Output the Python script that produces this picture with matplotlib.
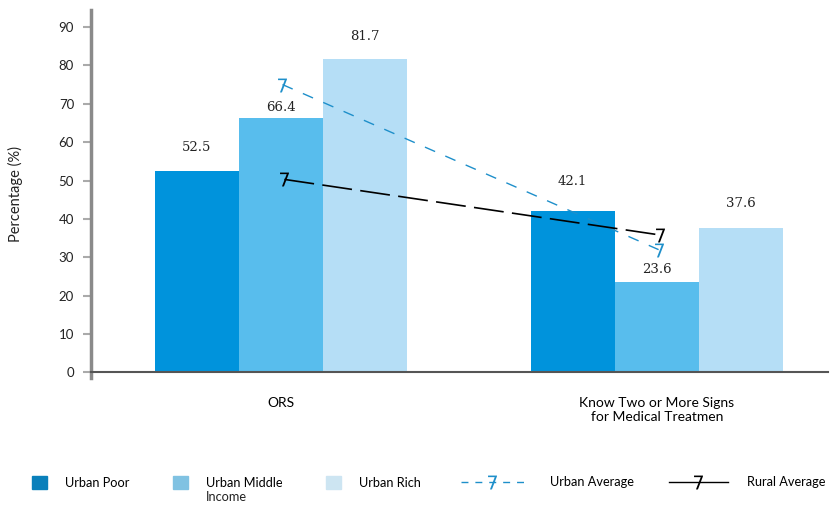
import matplotlib
matplotlib.use('Agg')
import matplotlib.pyplot as plt
from matplotlib.patches import Patch
from matplotlib.lines import Line2D
import numpy as np

categories = ['ORS', 'Know Two or More Signs\nfor Medical Treatmen']
urban_poor = [52.5, 42.1]
urban_middle = [66.4, 23.6]
urban_rich = [81.7, 37.6]
urban_average = [75.0, 32.0]
rural_average = [50.3, 35.8]

# label offset above bar top, in points (the source placed them unevenly)
label_offsets = [[17, 7, 16], [21, 9, 18]]

plt.rcParams['font.family'] = ['Lato', 'DejaVu Sans']

fig = plt.figure(figsize=(8.32, 5.05), dpi=100)
ax = fig.add_axes([0.109, 0.251, 0.886, 0.729])

x = np.arange(len(categories))
w = 0.2234
series = [
    (urban_poor, 'Urban Poor', '#0093dc', '#0a80bb'),
    (urban_middle, 'Urban Middle', '#58bded', '#80c2e2'),
    (urban_rich, 'Urban Rich', '#b5def6', '#cde5f2'),
]
for i, (vals, name, col, _) in enumerate(series):
    pos = x + (i - 1) * w
    ax.bar(pos, vals, width=w, color=col, label=name, zorder=2)
    for j, v in enumerate(vals):
        ax.annotate(f'{v:.1f}', (pos[j], v), xytext=(0, label_offsets[j][i]),
                    textcoords='offset points', ha='center', va='center',
                    fontsize=9.5, color='#222222', family='DejaVu Serif')

mk = dict(marker='$7$', markersize=10, markeredgewidth=0, zorder=3)
ax.plot(x + 0.005, urban_average, color='#1e8fca', lw=1.0, dashes=(8, 8), **mk)
ax.plot(x + 0.01, rural_average, color='black', lw=1.2, dashes=(18, 5), **mk)

ax.set_xlim(-0.505, 1.455)
ax.set_ylim(-1.5, 94.4)
ax.set_yticks(range(0, 91, 10))
ax.set_xticks(x)
ax.set_xticklabels(categories, fontsize=9, color='#222222')
ax.tick_params(axis='x', length=0, pad=18)
ax.tick_params(axis='y', length=6, width=1.5, color='#aaaaaa', labelsize=9.5,
               labelcolor='#222222', pad=6)

for s in ['top', 'right']:
    ax.spines[s].set_visible(False)
ax.spines['left'].set_color('#8a8a8a')
ax.spines['left'].set_linewidth(2.5)
ax.spines['bottom'].set_position(('data', 0))
ax.spines['bottom'].set_color('#555555')
ax.spines['bottom'].set_linewidth(1.5)

ax.set_ylabel('Percentage (%)', fontsize=10.5, color='#222222', labelpad=26)

# legend, split up so patches and lines can have different handle sizes
legy = 1 - 476 / 505
fs = 9.2
patch_handles = [Patch(color=c2, label=n) for _, n, _, c2 in series]
leg1 = fig.legend(handles=patch_handles, loc='upper left',
                  bbox_to_anchor=(32 / 832, legy), ncol=3,
                  frameon=False, fontsize=fs, handlelength=1.15, handleheight=1.15,
                  handletextpad=1.45, columnspacing=3.4, borderpad=0,
                  borderaxespad=0)
urban_h = Line2D([], [], color='#1e8fca', lw=1.0, dashes=(5, 5), label='Urban Average', **mk)
rural_h = Line2D([], [], color='black', lw=1.0, label='Rural Average', **mk)
fig.legend(handles=[urban_h], loc='upper left', bbox_to_anchor=(461 / 832, legy),
           frameon=False, fontsize=fs, handlelength=4.9, numpoints=1,
           handletextpad=2.1, borderpad=0, borderaxespad=0)
fig.legend(handles=[rural_h], loc='upper left', bbox_to_anchor=(669 / 832, legy),
           frameon=False, fontsize=fs, handlelength=4.6, numpoints=1,
           handletextpad=1.5, borderpad=0, borderaxespad=0)

# second line of the "Urban Middle Income" label
fig.canvas.draw()
bb = leg1.get_texts()[1].get_window_extent()
fig.text(bb.x0 / fig.bbox.width, (bb.y0 - 2) / fig.bbox.height, 'Income',
         ha='left', va='top', fontsize=fs, color='#222222')

fig.savefig('out.png', dpi=100)
